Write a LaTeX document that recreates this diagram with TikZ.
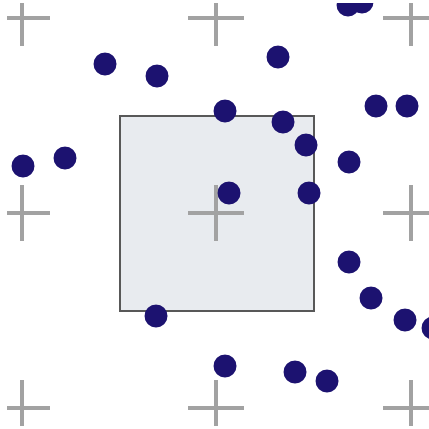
\documentclass[tikz,border=0pt]{standalone}
\definecolor{crossgray}{RGB}{162,162,162}
\definecolor{cellfill}{RGB}{232,235,239}
\definecolor{cellline}{RGB}{88,88,88}
\definecolor{dotblue}{RGB}{28,18,112}
\tikzset{
  cross/.style={line width=4pt,crossgray},
  pt/.style={fill=dotblue}
}
\begin{document}
\begin{tikzpicture}[x=1pt,y=-1pt]
\useasboundingbox (0,0) rectangle (429,429);
\clip (7,3) rectangle (429,425);
% cell
\draw[line width=1.6pt,draw=cellline,fill=cellfill] (120,116) rectangle (314,311);

% lattice crosses
\draw[cross] (-6,18) -- (50,18) (22,-10) -- (22,46);
\draw[cross] (188,18) -- (244,18) (216,-10) -- (216,46);
\draw[cross] (383,18) -- (439,18) (411,-10) -- (411,46);
\draw[cross] (-6,213) -- (50,213) (22,185) -- (22,241);
\draw[cross] (188,213) -- (244,213) (216,185) -- (216,241);
\draw[cross] (383,213) -- (439,213) (411,185) -- (411,241);
\draw[cross] (-6,408) -- (50,408) (22,380) -- (22,436);
\draw[cross] (188,408) -- (244,408) (216,380) -- (216,436);
\draw[cross] (383,408) -- (439,408) (411,380) -- (411,436);

% points
\fill[pt] (348,5) circle (11.5);
\fill[pt] (362,2) circle (11.5);
\fill[pt] (105,64) circle (11.5);
\fill[pt] (157,76) circle (11.5);
\fill[pt] (278,57) circle (11.5);
\fill[pt] (65,158) circle (11.5);
\fill[pt] (23,166) circle (11.5);
\fill[pt] (225,111) circle (11.5);
\fill[pt] (376,106) circle (11.5);
\fill[pt] (407,106) circle (11.5);
\fill[pt] (283,122) circle (11.5);
\fill[pt] (306,145) circle (11.5);
\fill[pt] (349,162) circle (11.5);
\fill[pt] (229,193) circle (11.5);
\fill[pt] (309,193) circle (11.5);
\fill[pt] (156,316) circle (11.5);
\fill[pt] (349,262) circle (11.5);
\fill[pt] (371,298) circle (11.5);
\fill[pt] (405,320) circle (11.5);
\fill[pt] (433,328) circle (11.5);
\fill[pt] (225,366) circle (11.5);
\fill[pt] (295,372) circle (11.5);
\fill[pt] (327,381) circle (11.5);
\end{tikzpicture}
\end{document}
